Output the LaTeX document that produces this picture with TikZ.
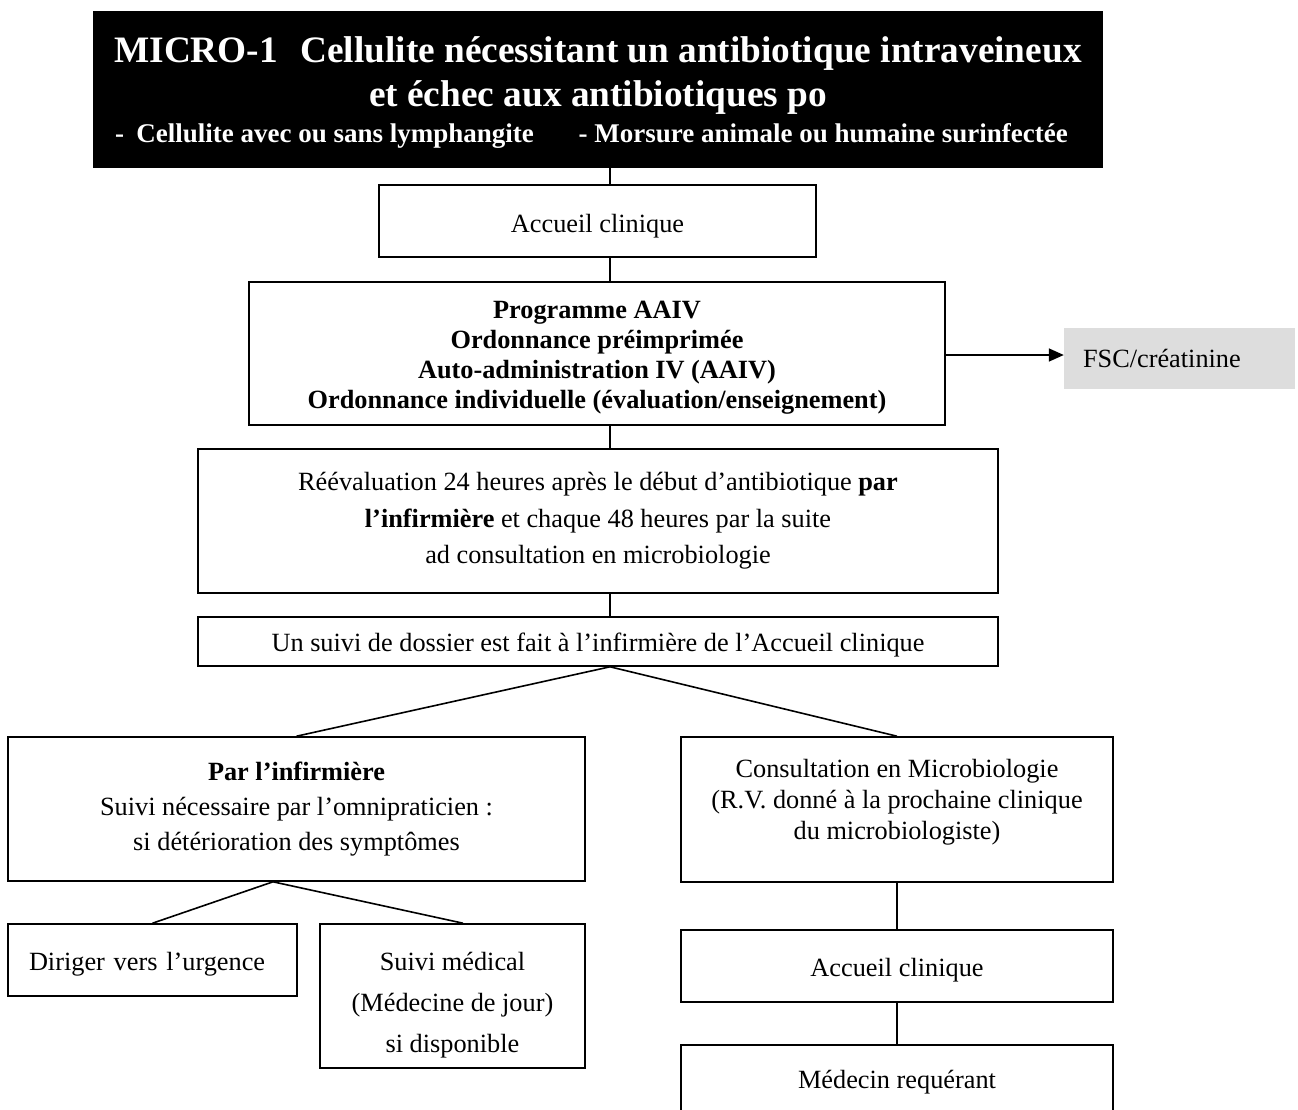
\documentclass[tikz,border=0pt]{standalone}
\usepackage{fontspec}
\setmainfont{Liberation Serif}
\usetikzlibrary{arrows.meta}
\definecolor{fscgray}{RGB}{221,221,221}
\tikzset{
  box/.style={draw=black, line width=1.6pt, inner sep=0pt, align=center,
    font=\fontsize{26.3}{34}\selectfont},
  conn/.style={line width=1.6pt, draw=black},
  titletext/.style={text=white, inner sep=0pt, font=\fontsize{37.3}{44}\selectfont\bfseries},
  subtext/.style={text=white, inner sep=0pt, font=\fontsize{27}{32}\selectfont\bfseries}
}
\begin{document}
\begin{tikzpicture}[x=1pt,y=-1pt]
\useasboundingbox (0,0) rectangle (1298,1110);
\coordinate (spine) at (610,0);

% title
\node[fill=black, draw=none, minimum width=1010pt, minimum height=157pt, inner sep=0pt] (title) at (598,89.5) {};
\node[titletext, anchor=base] (tl1) at (598,63) {MICRO-1\hspace{0.35em} Cellulite nécessitant un antibiotique intraveineux};
\node[titletext, anchor=base] (tl2) at (598,107) {et échec aux antibiotiques po};
\node[subtext, anchor=base west] (tl3a) at (115,143) {-\hspace{0.45em}Cellulite avec ou sans lymphangite};
\node[subtext, anchor=base east] (tl3b) at (1068,143) {- Morsure animale ou humaine surinfectée};

% boxes
\node[box, minimum width=437pt, minimum height=72pt] (acc1) at (597.5,221) {\rule{0pt}{28pt}Accueil clinique};
\node[box, minimum width=696pt, minimum height=143pt, font=\fontsize{26.3}{30}\selectfont\bfseries] (prog) at (597,353.5)
  {\rule{0pt}{26pt}Programme AAIV\\Ordonnance préimprimée\\Auto-administration IV (AAIV)\\Ordonnance individuelle (évaluation/enseignement)};
\node[fill=fscgray, draw=none, inner xsep=19pt, inner ysep=0pt, text width=193pt, align=left, minimum height=61pt,
  font=\fontsize{26.3}{34}\selectfont] (fsc) at (1179.5,358.5) {FSC/créatinine};
\node[box, minimum width=800pt, minimum height=144pt, font=\fontsize{26.3}{36.5}\selectfont] (reev) at (598,521)
  {Réévaluation 24 heures après le début d’antibiotique \textbf{par}\\\textbf{l’infirmière} et chaque 48 heures par la suite\\ad consultation en microbiologie};
\node[box, minimum width=800pt, minimum height=49pt] (suivi) at (598,641.5)
  {\rule{0pt}{26pt}Un suivi de dossier est fait à l’infirmière de l’Accueil clinique};
\node[box, minimum width=577pt, minimum height=144pt, font=\fontsize{26.3}{35}\selectfont] (par) at (296.5,809)
  {\textbf{Par l’infirmière}\\Suivi nécessaire par l’omnipraticien :\\si détérioration des symptômes};
\node[box, minimum width=432pt, minimum height=145pt, font=\fontsize{26.3}{31}\selectfont] (cons) at (897,809.5)
  {Consultation en Microbiologie\\(R.V. donné à la prochaine clinique\\du microbiologiste)\rule[-21pt]{0pt}{0pt}};
\node[box, minimum height=72pt, inner xsep=21pt, text width=247pt, align=left] (dir) at (152.5,960)
  {\rule{0pt}{26pt}Diriger vers l’urgence};
\node[box, minimum width=265pt, minimum height=144pt, font=\fontsize{26.3}{41}\selectfont] (smed) at (452.5,996)
  {\rule{0pt}{36pt}Suivi médical\\(Médecine de jour)\\si disponible};
\node[box, minimum width=432pt, minimum height=72pt] (acc2) at (897,966) {\rule{0pt}{26pt}Accueil clinique};
\node[box, minimum width=432pt, minimum height=68pt] (med) at (897,1079) {\rule{0pt}{24pt}Médecin requérant};

% connectors
\draw[conn] (title.south -| spine) -- (acc1.north -| spine);
\draw[conn] (acc1.south -| spine) -- (prog.north -| spine);
\draw[conn, -{Triangle[length=15pt,width=13pt]}] ([yshift=-1.5pt]prog.east) -- ([yshift=-1.5pt]prog.east -| fsc.west);
\draw[conn] (prog.south -| spine) -- (reev.north -| spine);
\draw[conn] (reev.south -| spine) -- (suivi.north -| spine);
\draw[conn] (suivi.south -| spine) -- (par.north);
\draw[conn] (suivi.south -| spine) -- (cons.north);
\draw[conn] ([xshift=-23.5pt]par.south) -- (dir.north);
\draw[conn] ([xshift=-23.5pt]par.south) -- ([xshift=10.5pt]smed.north);
\draw[conn] (cons.south) -- (acc2.north);
\draw[conn] (acc2.south) -- (med.north);
\end{tikzpicture}
\end{document}
